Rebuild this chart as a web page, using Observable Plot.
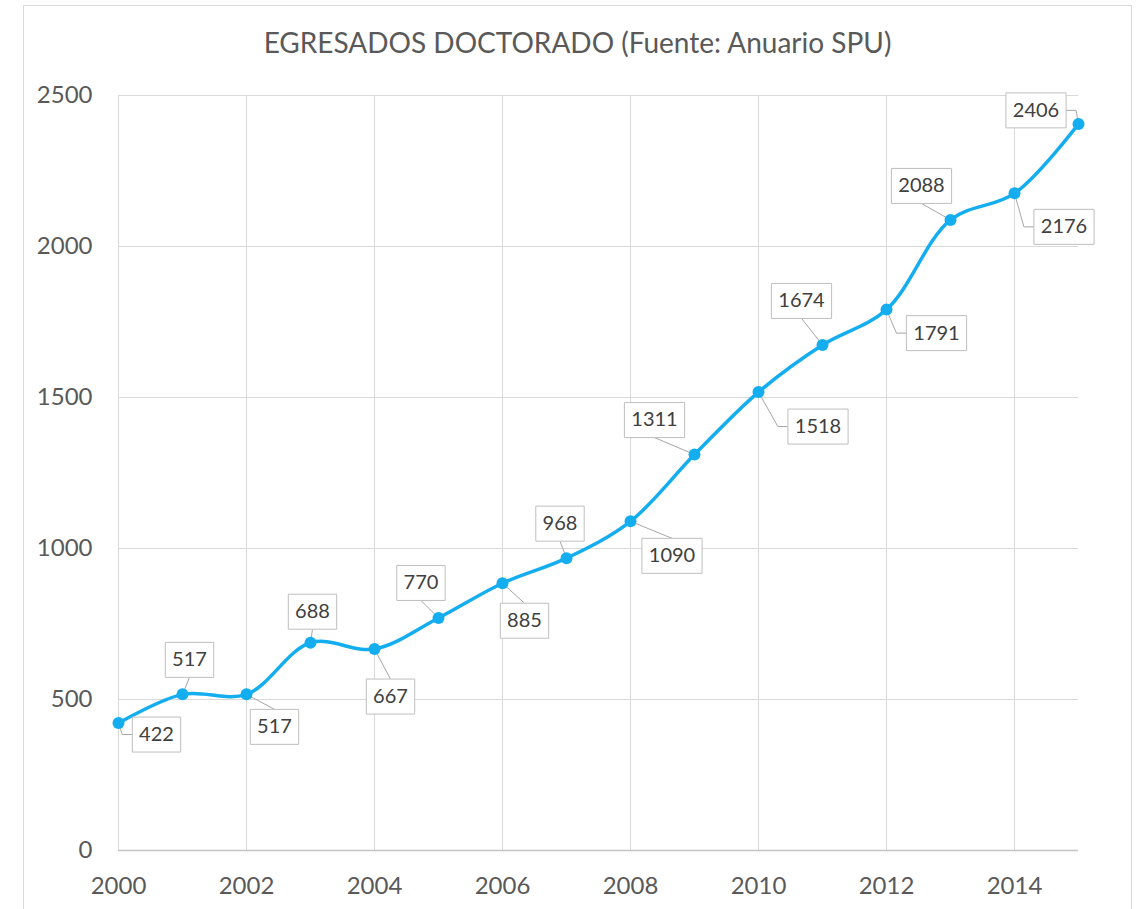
<!DOCTYPE html>
<html>
<head>
<meta charset="utf-8">
<script src="https://cdn.jsdelivr.net/npm/d3@7"></script>
<script src="https://cdn.jsdelivr.net/npm/@observablehq/plot@0.6"></script>
<style>
  html, body { margin: 0; padding: 0; background: #fff; }
  #wrap { position: relative; width: 1140px; height: 909px; overflow: hidden; background: #fff; }
  #frame { position: absolute; left: 23px; top: 5px; width: 1109px; height: 1000px; border: 1px solid #d9d9d9; box-sizing: border-box; }
  #title { position: absolute; left: 23px; top: 25px; width: 1109px; text-align: center; font-family: Lato, sans-serif; font-size: 28px; line-height: 34px; color: #595959; white-space: nowrap; }
  #chart { position: absolute; left: 0; top: 70px; }
</style>
</head>
<body>
<div id="wrap">
  <div id="frame"></div>
  <div id="title"></div>
  <div id="chart"></div>
</div>
<script>
// ---- data ----
const title = "EGRESADOS DOCTORADO (Fuente: Anuario SPU)";
const years = [2000, 2001, 2002, 2003, 2004, 2005, 2006, 2007, 2008, 2009, 2010, 2011, 2012, 2013, 2014, 2015];
const values = [422, 517, 517, 688, 667, 770, 885, 968, 1090, 1311, 1518, 1674, 1791, 2088, 2176, 2406];
const yTicks = [0, 500, 1000, 1500, 2000, 2500];
const xTicks = [2000, 2002, 2004, 2006, 2008, 2010, 2012, 2014];

// ---- label layout (box centre offset in px from the point, leader style) ----
const labelLayout = [
  [38, 11.5, "e"], [7, -34.5, "s"], [28, 32.5, "s"], [2, -31, "s"],
  [16, 47.5, "s"], [-17.5, -35, "s"], [22, 37.5, "s"], [-6.5, -34.5, "s"],
  [41.5, 34.5, "s"], [-40, -34.5, "s"], [59.5, 34.5, "e"], [-21, -44, "s"],
  [50, 23.5, "e"], [-29, -34, "s"], [49.5, 33.5, "e"], [-42.5, -13.5, "e"]
];

const data = years.map((year, i) => ({year, value: values[i]}));
document.getElementById("title").textContent = title;

const lineColor = "#14aef0";
const boxH = 35;
const boxW = v => String(v).length * 11.8 + 13;

function boxSymbol(dx, dy, w, h) {
  return {draw(ctx) {
    ctx.moveTo(dx - w / 2, dy - h / 2);
    ctx.lineTo(dx + w / 2, dy - h / 2);
    ctx.lineTo(dx + w / 2, dy + h / 2);
    ctx.lineTo(dx - w / 2, dy + h / 2);
    ctx.closePath();
  }};
}
function leaderSymbol(dx, dy, w, h, type) {
  return {draw(ctx) {
    ctx.moveTo(0, 0);
    if (type === "e") {
      const side = dx > 0 ? -1 : 1;
      const ex = dx + side * w / 2;
      ctx.lineTo(ex + side * 10, dy);
      ctx.lineTo(ex, dy);
    } else {
      const ey = dy > 0 ? dy - h / 2 : dy + h / 2;
      ctx.lineTo(dx, ey);
    }
  }};
}

const leaders = [], boxes = [], texts = [];
data.forEach((d, i) => {
  const [dx, dy, type] = labelLayout[i];
  const w = boxW(d.value);
  leaders.push(Plot.dot([d], {x: "year", y: "value", symbol: leaderSymbol(dx, dy, w, boxH, type), fill: "none", stroke: "#a6a6a6", strokeWidth: 1}));
  boxes.push(Plot.dot([d], {x: "year", y: "value", symbol: boxSymbol(dx, dy, w, boxH), fill: "#ffffff", stroke: "#bfbfbf", strokeWidth: 1}));
  texts.push(Plot.text([d], {x: "year", y: "value", text: v => String(v.value), dx, dy: dy, fontSize: 20, fill: "#404040"}));
});

const chart = Plot.plot({
  width: 1140,
  height: 839,
  marginTop: 25,
  marginBottom: 59,
  marginLeft: 118,
  marginRight: 62,
  style: {fontFamily: "Lato, sans-serif", fontSize: "24px", color: "#595959", background: "transparent", overflow: "visible"},
  x: {domain: [2000, 2015], label: null},
  y: {domain: [0, 2500], label: null},
  marks: [
    Plot.gridX(xTicks, {stroke: "#d9d9d9", strokeOpacity: 1}),
    Plot.gridY(yTicks, {stroke: "#d9d9d9", strokeOpacity: 1}),
    Plot.ruleY([0], {stroke: "#c4c4c4", strokeWidth: 1.5}),
    Plot.axisY(yTicks, {tickSize: 0, tickPadding: 26, fontSize: 24, tickFormat: d => String(d)}),
    Plot.axisX(xTicks, {tickSize: 0, tickPadding: 26, fontSize: 24, tickFormat: d => String(d)}),
    ...leaders,
    Plot.line(data, {x: "year", y: "value", curve: "catmull-rom", stroke: lineColor, strokeWidth: 3.5}),
    Plot.dot(data, {x: "year", y: "value", r: 6, fill: lineColor}),
    ...boxes,
    ...texts
  ]
});
document.getElementById("chart").appendChild(chart);
</script>
</body>
</html>
